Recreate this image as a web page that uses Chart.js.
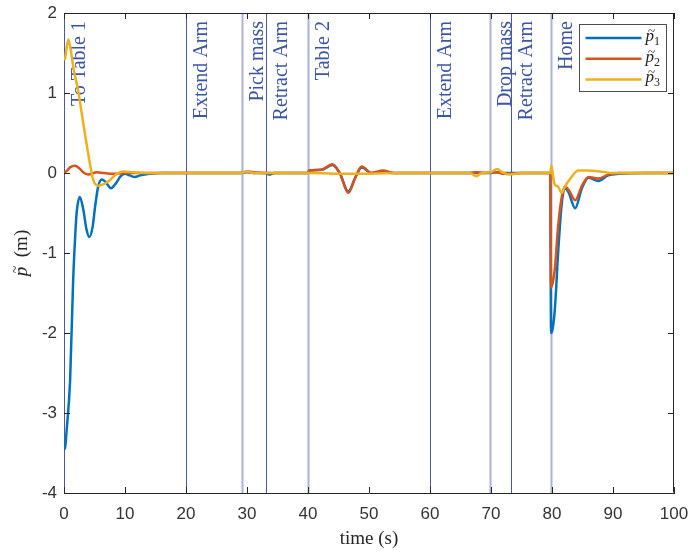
<!DOCTYPE html>
<html>
<head>
<meta charset="utf-8">
<script src="https://cdn.jsdelivr.net/npm/chart.js@4"></script>
<style>
html, body { margin: 0; padding: 0; background: #fff; }
#wrap { width: 689px; height: 553px; position: relative; }
</style>
</head>
<body>
<div id="wrap"><canvas id="chart"></canvas></div>
<script>
// tracking error of the end effector, one array pair per component
const p1Time = [0, 0.16, 0.44, 1.0, 1.5, 1.8, 2.07, 2.6, 3.17, 3.7, 4.15, 4.7, 5.1, 5.6, 6.2, 6.8, 7.7, 8.5, 9.3, 10, 10.8, 11.6, 12.5, 14, 16, 20, 29, 30, 31, 33, 33.6, 34.5, 38, 40, 40.2, 42.2, 44, 45.2, 46.6, 47.8, 48.8, 50.4, 52.3, 54, 60, 67.6, 70, 71, 72, 75, 79.7, 79.85, 80.1, 80.5, 81.0, 81.6, 82.1, 82.7, 83.8, 84.9, 86, 87.6, 89.2, 91, 95, 100];
const p1Vals = [-3.45, -3.44, -3.21, -2.59, -1.34, -0.84, -0.5, -0.3, -0.46, -0.71, -0.8, -0.67, -0.42, -0.17, -0.08, -0.11, -0.19, -0.13, -0.04, -0.01, -0.03, -0.05, -0.03, -0.01, 0, 0, 0, 0.01, 0, 0, -0.02, 0, 0, 0, 0.03, 0.04, 0.1, 0, -0.23, -0.05, 0.07, 0, 0.02, 0, 0, 0, 0, 0.01, 0, 0, 0, -2.0, -1.95, -1.67, -1.0, -0.38, -0.19, -0.24, -0.44, -0.19, -0.06, -0.1, -0.03, -0.01, 0, 0];

const p2Time = [0, 0.5, 1.0, 1.8, 2.5, 3.3, 4.0, 5.4, 6.5, 8, 10, 12, 20, 29, 30, 31, 33, 38, 39.9, 40.2, 42.2, 44, 45.2, 46.6, 47.8, 48.8, 50.4, 52.3, 54, 60, 66.5, 67.6, 69, 70, 71, 72, 75, 79.7, 79.85, 80.2, 80.5, 81.0, 81.6, 82.1, 82.8, 83.8, 84.9, 86, 87.6, 89.2, 91, 100];
const p2Vals = [0, 0.03, 0.07, 0.09, 0.06, 0, -0.02, 0.01, 0, -0.01, 0, 0, 0, 0, 0.02, 0.01, 0, 0, 0, 0.03, 0.04, 0.11, 0, -0.25, -0.05, 0.08, 0, 0.03, 0, 0, 0, 0.01, 0, 0.01, 0.01, -0.01, 0, 0, -1.43, -1.34, -1.17, -0.67, -0.3, -0.17, -0.22, -0.34, -0.16, -0.05, -0.07, -0.02, 0, 0];

const p3Time = [0, 0.16, 0.7, 1.0, 1.64, 2.2, 2.9, 3.6, 4.15, 4.8, 5.6, 6.5, 7.5, 8.5, 9.7, 11.4, 13, 20, 29, 30, 31, 40, 47, 55, 66.5, 67.6, 68.5, 70, 71, 71.8, 73, 75, 79.7, 79.9, 80.3, 80.5, 81.0, 81.6, 82.1, 83, 84.3, 85.6, 87.8, 90, 100];
const p3Vals = [1.41, 1.43, 1.67, 1.58, 1.27, 1.08, 0.75, 0.41, 0.16, -0.09, -0.16, -0.14, -0.09, -0.02, 0.02, 0.01, 0, 0, 0, 0.02, 0, 0, -0.01, 0, 0, -0.04, 0, 0.01, 0.05, 0.01, -0.02, 0, 0, 0.09, -0.1, -0.15, -0.17, -0.25, -0.17, -0.07, 0.03, 0.03, 0.02, 0, 0];

// task phases marked along the time axis
const eventTimes = [0, 20, 29.1, 33.1, 40, 60, 69.9, 73.2, 79.8];
const eventLabels = ['To Table 1', 'Extend Arm', 'Pick mass', 'Retract Arm', 'Table 2', 'Extend Arm', 'Drop mass', 'Retract Arm', 'Home'];

const xTicks = [0, 10, 20, 30, 40, 50, 60, 70, 80, 90, 100];
const yTicks = [-4, -3, -2, -1, 0, 1, 2];

const seriesNames = ['1', '2', '3'];
const seriesColors = ['#0072BD', '#D95319', '#EDB120'];

const faintEvents = new Set([2, 4, 6, 8]);
const AXIS = '#262626';
const SERIF = '"Liberation Serif", "DejaVu Serif", serif';

function pts(t, v) { return t.map((x, i) => ({ x: x, y: v[i] })); }

// italic p with a tilde centred over it, returns the advance
function drawPTilde(ctx, x, y, size) {
    ctx.font = 'italic ' + size + 'px ' + SERIF;
    const pw = ctx.measureText('p').width;
    ctx.fillText('p', x, y);
    ctx.font = Math.round(size * 0.75) + 'px ' + SERIF;
    const tw = ctx.measureText('~').width;
    ctx.fillText('~', x + pw / 2 + size * 0.1 - tw / 2, y - size * 0.36);
    return pw;
}

const overlay = {
    id: 'overlay',
    beforeDatasetsDraw(chart) {
        const { ctx, chartArea: a, scales: { x } } = chart;
        ctx.save();
        eventTimes.forEach((t, i) => {
            const px = Math.round(x.getPixelForValue(t)) + 0.5;
            const faint = faintEvents.has(i);
            ctx.strokeStyle = faint ? '#a9b2da' : '#4858aa';
            ctx.lineWidth = faint ? 2 : 1;
            ctx.beginPath();
            ctx.moveTo(px, a.top);
            ctx.lineTo(px, a.bottom);
            ctx.stroke();

            ctx.save();
            ctx.translate(px + 20, a.top + 8);
            ctx.rotate(-Math.PI / 2);
            ctx.font = '20px ' + SERIF;
            ctx.fillStyle = '#3b55a6';
            ctx.textAlign = 'right';
            ctx.textBaseline = 'alphabetic';
            ctx.fillText(eventLabels[i], 0, 0);
            ctx.restore();
        });
        ctx.restore();
    },
    afterDraw(chart) {
        const { ctx, chartArea: a, scales: { x, y } } = chart;
        ctx.save();
        // axes box and inward ticks on every side
        ctx.strokeStyle = AXIS;
        ctx.lineWidth = 1;
        ctx.beginPath();
        ctx.moveTo(a.left + 0.5, a.top + 0.5);
        ctx.lineTo(a.right - 0.5, a.top + 0.5);
        ctx.lineTo(a.right - 0.5, a.bottom - 0.5);
        ctx.stroke();
        const tl = 6;
        xTicks.forEach(v => {
            const px = Math.round(x.getPixelForValue(v)) + 0.5;
            ctx.beginPath();
            ctx.moveTo(px, a.bottom); ctx.lineTo(px, a.bottom - tl);
            ctx.moveTo(px, a.top); ctx.lineTo(px, a.top + tl);
            ctx.stroke();
        });
        yTicks.forEach(v => {
            const py = Math.round(y.getPixelForValue(v)) + 0.5;
            ctx.beginPath();
            ctx.moveTo(a.left, py); ctx.lineTo(a.left + tl, py);
            ctx.moveTo(a.right, py); ctx.lineTo(a.right - tl, py);
            ctx.stroke();
        });

        // legend
        const lx = 579.5, ly = 24.5, lw = 87, lh = 67;
        ctx.fillStyle = '#fff';
        ctx.fillRect(lx, ly, lw, lh);
        ctx.strokeStyle = '#4d4d4d';
        ctx.strokeRect(lx, ly, lw, lh);
        seriesNames.forEach((n, i) => {
            const yy = ly + 13.5 + i * 20.7;
            ctx.strokeStyle = seriesColors[i];
            ctx.lineWidth = 2.5;
            ctx.beginPath();
            ctx.moveTo(lx + 6, yy);
            ctx.lineTo(lx + 62, yy);
            ctx.stroke();
            ctx.fillStyle = '#222';
            ctx.textBaseline = 'alphabetic';
            ctx.textAlign = 'left';
            const pw = drawPTilde(ctx, lx + 66, yy + 3, 17);
            ctx.font = '12px ' + SERIF;
            ctx.fillText(n, lx + 66 + pw, yy + 7);
        });

        // y axis title
        ctx.save();
        ctx.translate(27, (a.top + a.bottom) / 2);
        ctx.rotate(-Math.PI / 2);
        ctx.fillStyle = AXIS;
        ctx.textBaseline = 'alphabetic';
        ctx.textAlign = 'left';
        ctx.font = 'italic 19px ' + SERIF;
        const pw = ctx.measureText('p').width;
        ctx.font = '19px ' + SERIF;
        const rest = '  (m)';
        const rw = ctx.measureText(rest).width;
        const x0 = -(pw + rw) / 2;
        drawPTilde(ctx, x0, 0, 19);
        ctx.font = '19px ' + SERIF;
        ctx.fillText(rest, x0 + pw, 0);
        ctx.restore();

        ctx.restore();
    }
};

new Chart(document.getElementById('chart'), {
    type: 'line',
    data: {
        datasets: [
            { data: pts(p1Time, p1Vals), borderColor: seriesColors[0], order: 2 },
            { data: pts(p2Time, p2Vals), borderColor: seriesColors[1], order: 1 },
            { data: pts(p3Time, p3Vals), borderColor: seriesColors[2], order: 0 }
        ]
    },
    options: {
        responsive: true,
        maintainAspectRatio: false,
        animation: false,
        datasets: {
            line: { borderWidth: 2.5, pointRadius: 0, cubicInterpolationMode: 'monotone', fill: false }
        },
        layout: { padding: { top: 13, right: 15, left: 0, bottom: 0 } },
        scales: {
            x: {
                type: 'linear', min: 0, max: 100,
                afterFit(s) { s.height = 60; s.paddingLeft = 0; s.paddingRight = 0; },
                afterBuildTicks(s) { s.ticks = xTicks.map(v => ({ value: v })); },
                grid: { display: false, drawTicks: false },
                border: { display: true, color: AXIS, width: 1 },
                ticks: { font: { family: 'Liberation Sans', size: 17 }, color: '#333', padding: 11, maxRotation: 0 },
                title: { display: true, text: 'time (s)', color: AXIS, font: { family: SERIF, size: 19 }, padding: { top: 0, bottom: 3 } }
            },
            y: {
                type: 'linear', min: -4, max: 2,
                afterFit(s) { s.width = 64; s.paddingTop = 0; s.paddingBottom = 0; },
                afterBuildTicks(s) { s.ticks = yTicks.map(v => ({ value: v })); },
                grid: { display: false, drawTicks: false },
                border: { display: true, color: AXIS, width: 1 },
                ticks: { font: { family: 'Liberation Sans', size: 17 }, color: '#333', padding: 7 }
            }
        },
        plugins: { legend: { display: false }, tooltip: { enabled: false } }
    },
    plugins: [overlay]
});
</script>
</body>
</html>
